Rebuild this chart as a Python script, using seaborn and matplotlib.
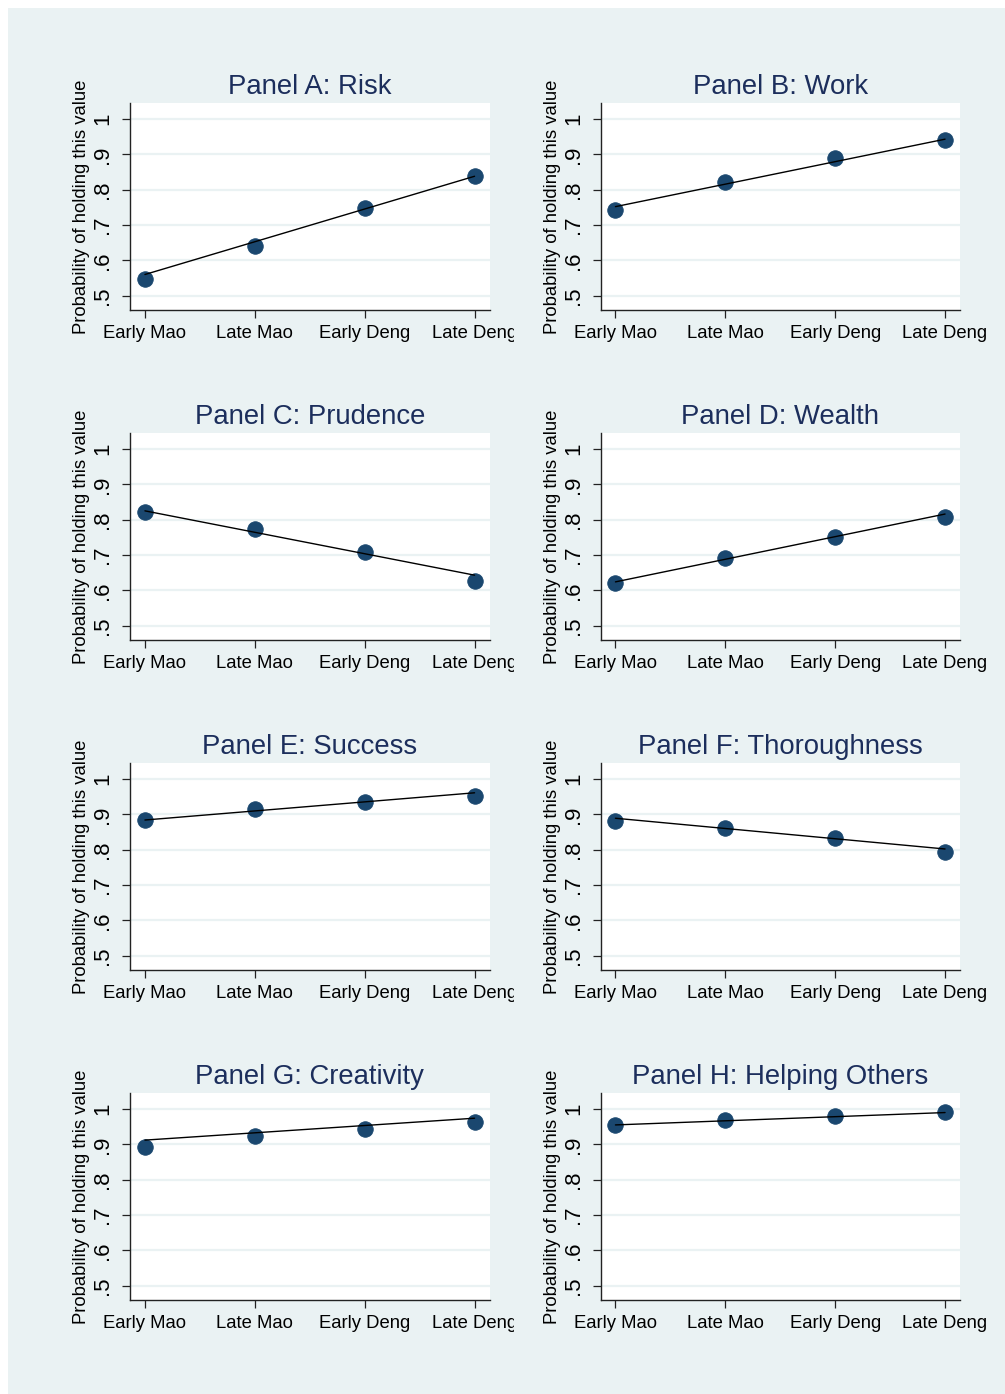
import matplotlib
matplotlib.use("Agg")
import matplotlib.pyplot as plt
import seaborn as sns
import pandas as pd
from matplotlib.patches import Rectangle
from matplotlib.transforms import Bbox

# Periods on the x axis
periods = ["Early Mao", "Late Mao", "Early Deng", "Late Deng"]

# Panel titles
titles = [
    "Panel A: Risk", "Panel B: Work",
    "Panel C: Prudence", "Panel D: Wealth",
    "Panel E: Success", "Panel F: Thoroughness",
    "Panel G: Creativity", "Panel H: Helping Others",
]

# Estimated probabilities for each period
risk = [0.547, 0.642, 0.747, 0.840]
work = [0.743, 0.823, 0.891, 0.940]
prudence = [0.821, 0.774, 0.708, 0.626]
wealth = [0.620, 0.691, 0.752, 0.809]
success = [0.884, 0.914, 0.936, 0.953]
thoroughness = [0.882, 0.860, 0.832, 0.793]
creativity = [0.892, 0.923, 0.944, 0.962]
helping = [0.955, 0.969, 0.981, 0.991]

# Fitted trend lines: value at Early Mao and at Late Deng
risk_fit = [0.560, 0.838]
work_fit = [0.752, 0.943]
prudence_fit = [0.825, 0.643]
wealth_fit = [0.624, 0.816]
success_fit = [0.884, 0.961]
thoroughness_fit = [0.889, 0.802]
creativity_fit = [0.912, 0.974]
helping_fit = [0.955, 0.990]

y_ticks = [0.5, 0.6, 0.7, 0.8, 0.9, 1.0]
y_tick_labels = [".5", ".6", ".7", ".8", ".9", "1"]
y_label = "Probability of holding this value"

series = [risk, work, prudence, wealth, success, thoroughness, creativity, helping]
fits = [risk_fit, work_fit, prudence_fit, wealth_fit, success_fit,
        thoroughness_fit, creativity_fit, helping_fit]

BG = "#EAF2F3"
NAVY = "#1A476F"
TITLE = "#1C2E5C"

sns.set_theme(style="white")
plt.rcParams["font.family"] = ["Liberation Sans", "DejaVu Sans"]

W, H = 1005, 1394
fig = plt.figure(figsize=(W / 100, H / 100), dpi=100)
fig.patch.set_facecolor("white")
fig.patches.append(Rectangle((8 / W, 0), 1 - 8 / W, 1 - 8 / H,
                             transform=fig.transFigure, facecolor=BG,
                             edgecolor="none", zorder=-10))

col_left = [130, 600.5]
ax_w = 359.5
row_top = [103.3, 433.3, 763.3, 1093.3]
ax_h = 206.7

for i, (vals, fit, title) in enumerate(zip(series, fits, titles)):
    r, c = divmod(i, 2)
    left = col_left[c] / W
    bottom = 1 - (row_top[r] + ax_h) / H
    ax = fig.add_axes([left, bottom, ax_w / W, ax_h / H])
    ax.set_facecolor("white")

    df = pd.DataFrame({"x": range(len(periods)), "y": vals})
    fit_df = pd.DataFrame({"x": [0, len(periods) - 1], "y": fit})

    for yv in y_ticks:
        ax.axhline(yv, color=BG, lw=1.6, zorder=0)

    sns.scatterplot(data=df, x="x", y="y", ax=ax, color=NAVY, s=125,
                    edgecolor=NAVY, linewidth=0.6, zorder=3)
    sns.lineplot(data=fit_df, x="x", y="y", ax=ax, color="black", lw=1.0,
                 zorder=4)

    ax.set_xlim(-0.136, 3.136)
    ax.set_ylim(0.4595, 1.0445)
    ax.set_xticks(range(len(periods)))
    ax.set_xticklabels(periods, fontsize=13.3)
    ax.set_yticks(y_ticks)
    ax.set_yticklabels(y_tick_labels, rotation=90, va="center", fontsize=16)
    ax.set_xlabel("")
    ax.set_ylabel(y_label, fontsize=13.3, color="black", labelpad=1.5)
    ax.set_title(title, fontsize=19.8, color=TITLE, pad=7)

    for side in ["top", "right"]:
        ax.spines[side].set_visible(False)
    for side in ["left", "bottom"]:
        ax.spines[side].set_color("#222222")
        ax.spines[side].set_linewidth(1.0)

    ax.tick_params(axis="both", which="major", direction="out", length=6,
                   width=0.9, color="#222222", labelcolor="black",
                   left=True, bottom=True)
    ax.tick_params(axis="x", pad=5)
    ax.tick_params(axis="y", pad=6)

    if c == 0:
        # the last period label runs past the panel cell and is cut there
        clip = Bbox.from_extents(0, 0, 513.5, H)
        for lab in ax.get_xticklabels():
            lab.set_clip_on(True)
            lab.set_clip_box(clip)

fig.savefig("out.png", dpi=100, facecolor=fig.get_facecolor())
